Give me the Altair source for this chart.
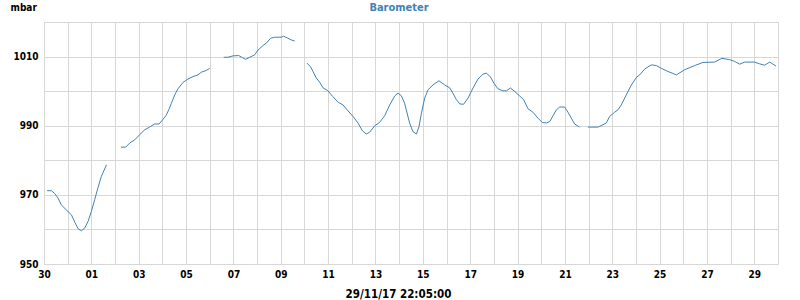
import altair as alt
import pandas as pd

# Time in days since 30 Oct 2017 00:00, barometric pressure in mbar, per unbroken run of data
seg1_days = [0.13, 0.31, 0.45, 0.59, 0.73, 0.95, 1.16, 1.30, 1.44, 1.58, 1.72, 1.86, 2.00, 2.14, 2.28, 2.42, 2.64]
seg1_mbar = [971.2, 971.2, 970.4, 969.1, 967.1, 965.6, 964.2, 962.1, 960.2, 959.6, 960.4, 962.3, 965.2, 968.6, 972.1, 975.3, 978.7]

seg2_days = [3.25, 3.45, 3.62, 3.83, 4.04, 4.25, 4.46, 4.67, 4.86, 5.01, 5.16, 5.27, 5.38, 5.52, 5.66, 5.87, 6.08, 6.29, 6.50, 6.65, 6.86, 7.00]
seg2_mbar = [983.8, 983.8, 985.0, 985.9, 987.4, 988.8, 989.6, 990.5, 990.5, 991.7, 993.0, 994.6, 996.5, 998.9, 1000.7, 1002.5, 1003.5, 1004.2, 1004.7, 1005.5, 1006.0, 1006.6]

seg3_days = [7.59, 7.77, 7.98, 8.22, 8.38, 8.51, 8.69, 8.90, 9.04, 9.25, 9.39, 9.57, 9.74, 10.03, 10.12, 10.30, 10.45, 10.59]
seg3_mbar = [1009.8, 1009.8, 1010.2, 1010.3, 1009.7, 1009.2, 1009.8, 1010.5, 1011.9, 1013.2, 1013.9, 1015.3, 1015.6, 1015.6, 1015.9, 1015.3, 1014.8, 1014.5]

seg4_days = [11.11, 11.25, 11.36, 11.50, 11.64, 11.78, 11.99, 12.20, 12.42, 12.63, 12.84, 13.05, 13.26, 13.45, 13.61, 13.75, 13.97,
             14.18, 14.39, 14.60, 14.81, 14.95, 15.09, 15.23, 15.30, 15.44, 15.58, 15.73, 15.84, 15.94, 16.08, 16.22, 16.43,
             16.68, 16.92, 17.13, 17.27, 17.42, 17.56, 17.72, 17.91, 18.12, 18.33, 18.54, 18.68, 18.85, 19.00, 19.17, 19.38,
             19.53, 19.70, 19.88, 20.09, 20.26, 20.44, 20.65, 20.86, 21.05, 21.22, 21.36, 21.50, 21.64, 21.78, 21.99, 22.13,
             22.27, 22.41, 22.62]
seg4_mbar = [1008.1, 1007.1, 1005.7, 1003.8, 1002.6, 1001.0, 1000.1, 998.4, 996.8, 996.0, 994.3, 992.7, 990.8, 988.5, 987.6, 988.1, 990.0,
             991.0, 992.9, 996.0, 998.6, 999.4, 998.7, 996.5, 994.6, 990.8, 988.3, 987.6, 989.8, 993.6, 998.0, 1000.4, 1001.8,
             1003.0, 1001.8, 1001.0, 999.4, 997.5, 996.3, 996.2, 998.0, 1000.9, 1003.5, 1004.9, 1005.2, 1004.2, 1002.3, 1000.7, 1000.1,
             1000.1, 1000.9, 999.9, 998.6, 997.5, 994.9, 993.9, 992.2, 990.9, 990.8, 991.2, 992.9, 994.6, 995.4, 995.4, 993.9,
             992.2, 990.5, 989.6]

seg5_days = [22.97, 23.40, 23.61, 23.75, 23.89, 24.10, 24.24, 24.38, 24.59, 24.81, 25.02, 25.16, 25.37, 25.65, 25.86, 26.07, 26.35,
             26.71, 27.06, 27.48, 27.83, 28.32, 28.63, 28.96, 29.17, 29.38, 29.59, 30.01, 30.22, 30.43, 30.65, 30.79, 30.92]
seg5_mbar = [989.6, 989.6, 990.3, 990.8, 992.7, 993.9, 994.6, 996.0, 998.9, 1001.8, 1004.0, 1004.7, 1006.4, 1007.6, 1007.4, 1006.6, 1005.7,
             1004.7, 1006.2, 1007.4, 1008.3, 1008.4, 1009.5, 1009.1, 1008.6, 1007.8, 1008.4, 1008.4, 1007.9, 1007.5, 1008.4, 1007.8, 1007.2]

x_ticks = list(range(0, 32))          # one gridline per day, 30 Oct .. 30 Nov
y_ticks = list(range(950, 1021, 10))  # gridlines every 10 mbar
chart_title = "Barometer"

rows = []
for i, (d, v) in enumerate([(seg1_days, seg1_mbar), (seg2_days, seg2_mbar), (seg3_days, seg3_mbar),
                            (seg4_days, seg4_mbar), (seg5_days, seg5_mbar)]):
    for a, b in zip(d, v):
        rows.append({"day": a, "mbar": b, "seg": i})
df = pd.DataFrame(rows)

FONT = "DejaVu Sans Condensed, DejaVu Sans"
BLUE = "#4282b4"

x_label_expr = ("datum.value % 2 == 0 ? (datum.value == 0 ? '30' : "
                "((datum.value - 1) < 10 ? '0' + (datum.value - 1) : '' + (datum.value - 1))) : ''")
y_label_expr = "(datum.value - 950) % 20 == 0 ? '' + datum.value : ''"

line = alt.Chart(df).mark_line(color=BLUE, strokeWidth=1, interpolate="linear").encode(
    x=alt.X("day:Q", scale=alt.Scale(domain=[0, 31], nice=False, zero=False),
            axis=alt.Axis(values=x_ticks, labelExpr=x_label_expr, title="29/11/17 22:05:00",
                          grid=True, gridColor="#d7d7d7", gridWidth=1, domain=False, ticks=False,
                          labelFlush=False, labelOverlap=False, labelPadding=5,
                          labelFont=FONT, labelFontSize=10, labelFontWeight="bold", labelColor="black",
                          titleFont=FONT, titleFontSize=11.5, titleFontWeight="bold", titleColor="black",
                          titleX=354, titleY=33, titleBaseline="alphabetic", titleAlign="center")),
    y=alt.Y("mbar:Q", scale=alt.Scale(domain=[950, 1020], nice=False, zero=False),
            axis=alt.Axis(values=y_ticks, labelExpr=y_label_expr, title="mbar",
                          grid=True, gridColor="#d7d7d7", gridWidth=1, domain=False, ticks=False,
                          labelFlush=False, labelOverlap=False, labelPadding=6,
                          labelFont=FONT, labelFontSize=10, labelFontWeight="bold", labelColor="black",
                          titleFont=FONT, titleFontSize=10, titleFontWeight="bold", titleColor="black",
                          titleAngle=0, titleX=-34, titleY=-12, titleAlign="left", titleBaseline="alphabetic")),
    detail="seg:N",
)

title_text = alt.Chart(alt.Data(values=[{"t": chart_title}])).mark_text(
    font=FONT, fontSize=11, fontWeight="bold", color=BLUE, align="center", baseline="alphabetic"
).encode(text="t:N", x=alt.value(355), y=alt.value(-11))

chart = alt.layer(line, title_text).properties(
    width=734, height=242,
    autosize=alt.AutoSizeParams(type="none"),
    padding={"left": 44, "top": 22, "right": 22, "bottom": 36},
).configure_view(stroke=None).configure(background="white")

chart.save("out.html", embed_options={"renderer": "svg", "actions": False})
